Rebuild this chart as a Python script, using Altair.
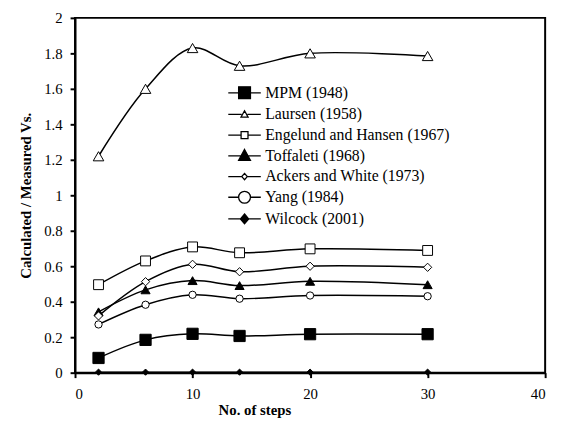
import altair as alt
import pandas as pd

steps = [2, 6, 10, 14, 20, 30]
series_names = ["MPM (1948)", "Laursen (1958)", "Engelund and Hansen (1967)",
                "Toffaleti (1968)", "Ackers and White (1973)", "Yang (1984)", "Wilcock (2001)"]
mpm = [0.083, 0.185, 0.219, 0.207, 0.217, 0.217]
laursen = [1.22, 1.60, 1.83, 1.73, 1.80, 1.785]
engelund = [0.496, 0.63, 0.709, 0.676, 0.698, 0.689]
toffaleti = [0.343, 0.467, 0.519, 0.491, 0.515, 0.496]
ackers = [0.32, 0.513, 0.611, 0.569, 0.600, 0.594]
yang = [0.272, 0.383, 0.439, 0.417, 0.435, 0.431]
wilcock = [0.003, 0.003, 0.003, 0.003, 0.003, 0.003]

values = [mpm, laursen, engelund, toffaleti, ackers, yang, wilcock]
rows = []
for name, vals in zip(series_names, values):
    for s, v in zip(steps, vals):
        rows.append({"series": name, "steps": s, "ratio": v})
df = pd.DataFrame(rows)

point_shapes = ["square", "triangle-up", "square", "triangle-up", "diamond", "circle", "diamond"]
point_sizes = [130, 40, 45, 120, 25, 110, 70]
fills = ["black", "white", "white", "black", "white", "white", "black"]
strokes = ["black"] * 7
line_widths = [1.5, 1.5, 1.5, 1.5, 1.5, 1.5, 2.5]

legend_paths = [
    "M-1.65,0H1.65M-0.6,-0.6H0.6V0.6H-0.6Z",
    "M-1.65,0H-0.3M0.3,0H1.65M0,-0.38L0.36,0.28H-0.36Z",
    "M-1.65,0H-0.35M0.35,0H1.65M-0.35,-0.35H0.35V0.35H-0.35Z",
    "M-1.65,0H1.65M0,-0.65L0.6,0.45H-0.6Z",
    "M-1.65,0H-0.28M0.28,0H1.65M0,-0.32L0.28,0L0,0.32L-0.28,0Z",
    "M-1.65,0H-0.6M0.6,0H1.65M-0.6,0A0.6,0.6 0 1,0 0.6,0A0.6,0.6 0 1,0 -0.6,0Z",
    "M-1.65,0H1.65M0,-0.5L0.42,0L0,0.5L-0.42,0Z",
]

x_enc = alt.X("steps:Q", scale=alt.Scale(domain=[0, 40], nice=False),
              axis=alt.Axis(values=[0, 10, 20, 30, 40], title="No. of steps", labelPadding=9,
                            titleX=182, titleY=37, titleBaseline="middle"))
y_enc = alt.Y("ratio:Q", scale=alt.Scale(domain=[0, 2], nice=False),
              axis=alt.Axis(values=[0, 0.2, 0.4, 0.6, 0.8, 1, 1.2, 1.4, 1.6, 1.8, 2],
                            format="~g", title="Calculated / Measured Vs.",
                            titleX=-50, titleY=180, titleBaseline="middle"))

base = alt.Chart(df)

legend_layer = base.transform_calculate(entry="datum.series").transform_filter(
    "datum.steps < 0"
).mark_point(
    filled=True, strokeWidth=1.3, size=400, opacity=1
).encode(
    x=x_enc, y=y_enc,
    shape=alt.Shape("entry:N", scale=alt.Scale(domain=series_names, range=legend_paths),
                    legend=alt.Legend(title=None, orient="none", legendX=161, legendY=65,
                                      symbolSize=400, symbolStrokeWidth=1.3,
                                      labelFont="Liberation Serif",
                                      labelFontSize=16, labelColor="black", labelOffset=10,
                                      labelLimit=400, rowPadding=2, padding=0,
                                      symbolOpacity=1)),
    fill=alt.Fill("entry:N", scale=alt.Scale(domain=series_names, range=fills)),
    stroke=alt.Stroke("entry:N", scale=alt.Scale(domain=series_names, range=strokes)),
)

lines = base.mark_line(interpolate="catmull-rom", color="black").encode(
    x=x_enc, y=y_enc, detail="series:N",
    strokeWidth=alt.StrokeWidth("series:N", scale=alt.Scale(domain=series_names, range=line_widths), legend=None),
)

points = base.mark_point(filled=True, stroke="black", strokeWidth=1, opacity=1).encode(
    x=x_enc, y=y_enc,
    shape=alt.Shape("series:N", scale=alt.Scale(domain=series_names, range=point_shapes), legend=None),
    size=alt.Size("series:N", scale=alt.Scale(domain=series_names, range=point_sizes), legend=None),
    fill=alt.Fill("series:N", scale=alt.Scale(domain=series_names, range=fills), legend=None),
)

chart = alt.layer(legend_layer, lines, points).resolve_scale(
    shape="independent", fill="independent", stroke="independent"
).properties(
    width=477, height=360,
    background="white",
    autosize=alt.AutoSizeParams(type="none"),
    padding={"left": 68, "top": 7, "right": 10, "bottom": 46},
).configure_view(
    stroke="black", strokeWidth=2
).configure_axis(
    grid=False, domainColor="black", domainWidth=2, tickColor="black", tickWidth=2,
    tickSize=5, labelFont="Liberation Serif", labelFontSize=15, labelColor="black",
    labelPadding=8, titleFont="Liberation Serif", titleFontSize=15, titleFontWeight="bold",
    titleColor="black",
)

chart.save("out.html", embed_options={"renderer": "svg", "actions": False})
